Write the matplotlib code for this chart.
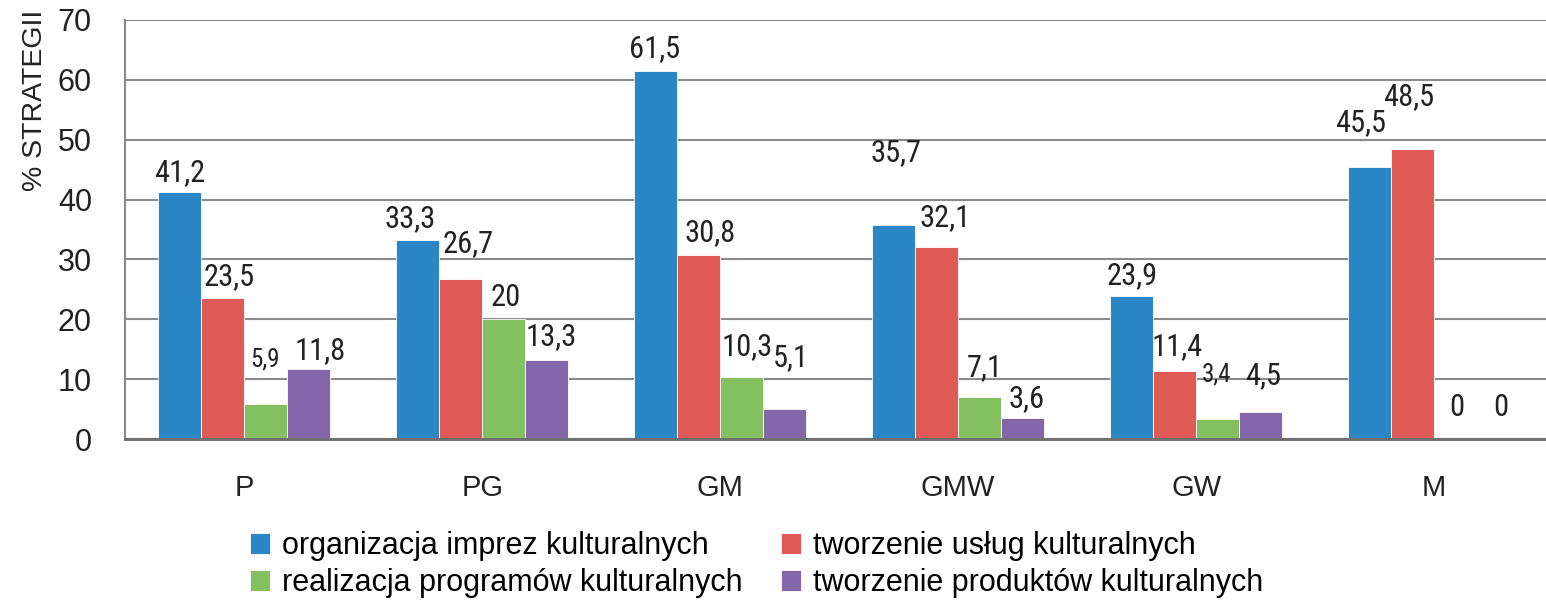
import numpy as np
import matplotlib.pyplot as plt
from matplotlib import font_manager

categories = ['P', 'PG', 'GM', 'GMW', 'GW', 'M']
organizacja = [41.2, 33.3, 61.5, 35.7, 23.9, 45.5]
uslugi = [23.5, 26.7, 30.8, 32.1, 11.4, 48.5]
programy = [5.9, 20, 10.3, 7.1, 3.4, 0]
produkty = [11.8, 13.3, 5.1, 3.6, 4.5, 0]

series_names = ['organizacja imprez kulturalnych', 'tworzenie usług kulturalnych',
                'realizacja programów kulturalnych', 'tworzenie produktów kulturalnych']
colors = ['#2a86c4', '#e05a55', '#84c060', '#8466ab']

# label offsets in pixels from (bar centre, bar top), hand-placed like in the original
label_offsets = [
    [(0, 20), (-7, 21), (-1, 22), (2, 73), (1, 20), (-9, 44)],
    [(7, 22), (8, 36), (11, 22), (8, 29), (3, 24), (-4, 52)],
    [(-1, 44), (2, 22), (5, 31), (5, 29), (-1, 44), (1, 32)],
    [(11, 18), (4, 23), (6, 51), (4, 19), (2, 37), (2, 32)],
]

plt.rcParams['font.family'] = ['Liberation Sans', 'DejaVu Sans']
installed = {f.name for f in font_manager.fontManager.ttflist}
narrow = [n for n in ['Roboto Condensed', 'Liberation Sans Narrow', 'DejaVu Sans Condensed']
          if n in installed] or ['Liberation Sans']

fig = plt.figure(figsize=(15.46, 6), dpi=100)
ax = fig.add_axes([0.081, 0.268, 0.919, 0.699])

x = np.arange(len(categories))
w = 0.181
series = [organizacja, uslugi, programy, produkty]
bars = []
for i, (vals, c) in enumerate(zip(series, colors)):
    pos = x + (i - 1.5) * w
    b = ax.bar(pos, vals, w, color=c, edgecolor='white', linewidth=0.6, zorder=3,
               label=series_names[i])
    bars.append(b)
    for j, (px, v) in enumerate(zip(pos, vals)):
        size = 18 if v in (5.9, 3.4) else 22
        dx, dy = label_offsets[i][j]
        ax.annotate(f'{v:g}'.replace('.', ','), (px, v), xytext=(dx, dy),
                    textcoords='offset pixels', ha='center', va='center',
                    fontsize=size, family=narrow, color='#222222')

ax.set_xlim(-0.5, 5.47)
ax.set_ylim(0, 70)
ax.set_yticks(range(0, 71, 10))
ax.set_xticks(x)
ax.set_xticklabels(categories)
ax.yaxis.grid(True, color='#8a8a8a', linewidth=1.5, zorder=0)
ax.tick_params(axis='y', length=0, pad=24, labelsize=22, labelcolor='#222222')
ax.tick_params(axis='x', length=0, pad=25, labelsize=21, labelcolor='#222222')
for s in ['top', 'right']:
    ax.spines[s].set_visible(False)
ax.spines['left'].set_color('#8a8a8a')
ax.spines['left'].set_linewidth(1.5)
ax.spines['bottom'].set_color('#707070')
ax.spines['bottom'].set_linewidth(2.2)
ax.spines['bottom'].set_zorder(4)

fig.text(35 / 1546, 1 - 100 / 600, '% STRATEGII', rotation=90, ha='center', va='center',
         fontsize=20.5, color='#222222')

handles = [bars[0], bars[2], bars[1], bars[3]]
labels = [series_names[0], series_names[2], series_names[1], series_names[3]]
fig.legend(handles, labels, ncol=2, loc='upper left', bbox_to_anchor=(250 / 1546, 1 - 531 / 600),
           frameon=False, fontsize=22, handlelength=0.65, handleheight=0.7, handletextpad=0.4,
           columnspacing=1.25, labelspacing=0.23, borderaxespad=0, borderpad=0)

fig.savefig('out.png', dpi=100)
